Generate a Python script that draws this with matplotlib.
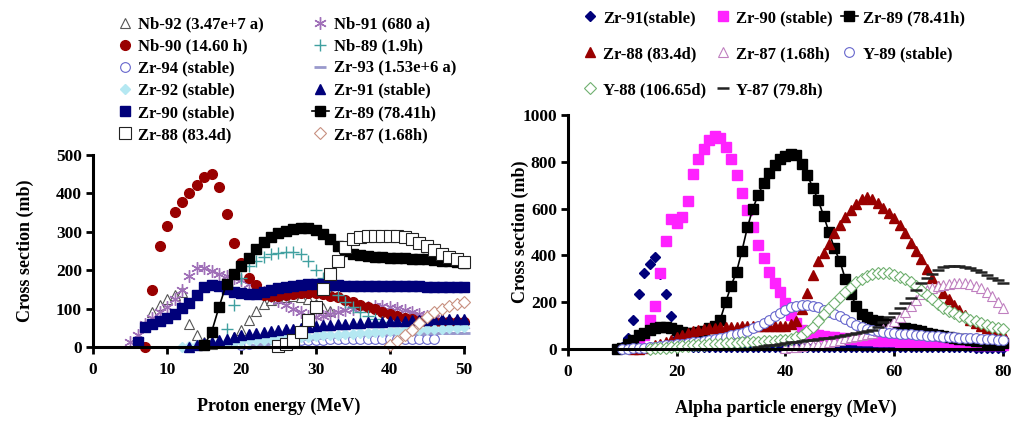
import numpy as np
import matplotlib.pyplot as plt

plt.rcParams['font.family'] = ['Liberation Serif', 'DejaVu Serif']
plt.rcParams['font.weight'] = 'bold'

# ---------------- proton induced (left) ----------------
e_nb92 = np.arange(7, 33)
nb92 = [55, 90, 110, 125, 135, 142, 60, 30, 12, 8,
        10, 15, 25, 45, 70, 95, 112, 122, 128, 130,
        132, 131, 125, 112, 102, 95]
e_nb91 = np.arange(5, 51)
nb91 = [13, 32, 60, 75, 90, 105, 125, 148, 185, 205,
        207, 198, 190, 185, 180, 174, 165, 155, 143, 132,
        120, 110, 100, 90, 82, 78, 80, 85, 92, 97,
        100, 103, 105, 106, 106, 105, 102, 97, 92, 87,
        80, 75, 70, 65, 60, 56]
e_nb90 = np.arange(7, 51)
nb90 = [0, 148, 262, 316, 352, 378, 400, 421, 444, 450,
        416, 346, 272, 220, 181, 162, 135, 132, 133, 136,
        139, 141, 141, 140, 138, 134, 129, 123, 116, 110,
        104, 98, 92, 86, 81, 76, 72, 69, 66, 65,
        64, 64, 64, 64]
e_nb89 = np.arange(18, 46)
nb89 = [48, 110, 180, 210, 225, 235, 242, 246, 248, 248,
        242, 225, 200, 180, 160, 135, 118, 104, 92, 82,
        72, 64, 56, 48, 42, 36, 31, 26]
e_zr94 = np.arange(20, 47)
zr94 = [5, 8, 10, 12, 14, 15, 16, 17, 18, 18,
        19, 19, 20, 20, 20, 21, 21, 21, 21, 21,
        21, 21, 21, 21, 21, 20, 20]
e_zr93 = np.arange(22, 51)
zr93 = [5, 8, 11, 14, 16, 18, 20, 22, 24, 26,
        27, 28, 29, 30, 31, 32, 33, 33, 34, 34,
        35, 35, 35, 36, 36, 36, 36, 36, 36]
e_zr92 = np.arange(12, 51)
zr92 = [0, 3, 6, 8, 10, 11, 13, 14, 15, 17,
        18, 19, 21, 22, 23, 25, 26, 27, 29, 30,
        31, 32, 34, 35, 36, 37, 38, 40, 41, 42,
        43, 44, 45, 46, 47, 48, 49, 50, 51]
e_zr91 = np.arange(13, 51)
zr91 = [0, 5, 10, 14, 18, 22, 26, 30, 33, 36,
        39, 42, 44, 46, 48, 50, 52, 54, 56, 58,
        60, 61, 62, 63, 64, 65, 66, 67, 68, 69,
        70, 70, 71, 72, 72, 73, 73, 74]
e_zr90 = np.arange(6, 51)
zr90 = [14, 53, 59, 68, 76, 86, 101, 115, 135, 155,
        161, 158, 150, 144, 141, 139, 138, 142, 148, 153,
        157, 160, 162, 163, 163, 163, 162, 161, 160, 160,
        160, 159, 159, 158, 158, 158, 158, 158, 158, 157,
        157, 157, 157, 157, 157]
e_zr89 = np.arange(15, 51)
zr89 = [5, 40, 105, 165, 190, 210, 232, 255, 273, 287,
        297, 303, 307, 310, 310, 305, 295, 280, 262, 250,
        243, 239, 236, 235, 234, 233, 232, 231, 230, 229,
        228, 227, 225, 223, 221, 220]
e_zr88 = np.arange(25, 51)
zr88 = [2, 8, 18, 40, 70, 105, 150, 190, 224, 260,
        280, 286, 288, 289, 290, 290, 289, 287, 282, 272,
        262, 252, 243, 235, 228, 222]
e_zr87 = np.arange(40, 51)
zr87 = [5, 15, 30, 45, 62, 78, 90, 100, 107, 113, 118]

# ---------------- alpha induced (right) ----------------
ea_zr91 = np.arange(10, 81)
a_zr91 = [10, 48, 125, 235, 325, 362, 395, 320, 233, 140,
          45, 20, 12, 10, 9, 8, 8, 8, 8, 8,
          8, 8, 8, 8, 8, 8, 8, 8, 8, 8,
          8, 8, 8, 8, 8, 8, 8, 8, 8, 8,
          8, 8, 8, 8, 8, 8, 8, 7, 7, 7,
          7, 7, 7, 7, 7, 7, 7, 7, 7, 7,
          7, 7, 7, 7, 7, 6, 6, 6, 6, 6, 6]
ea_zr90 = np.arange(13, 81)
a_zr90 = [20, 60, 123, 182, 325, 463, 555, 540, 563, 632,
          748, 811, 853, 893, 912, 903, 865, 811, 744, 668,
          594, 520, 444, 388, 330, 282, 242, 197, 147, 111,
          83, 70, 62, 58, 55, 52, 50, 48, 46, 44,
          42, 40, 39, 37, 36, 35, 34, 33, 32, 31,
          30, 29, 28, 27, 26, 25, 24, 23, 22, 21,
          20, 20, 19, 18, 18, 17, 17, 16]
ea_zr89 = np.arange(9, 81)
a_zr89 = [0, 5, 20, 40, 60, 70, 80, 88, 92, 93,
          88, 80, 72, 68, 68, 72, 78, 88, 100, 125,
          200, 270, 330, 420, 520, 600, 660, 710, 750, 785,
          810, 825, 835, 830, 790, 745, 690, 637, 570, 500,
          430, 375, 300, 235, 185, 150, 135, 125, 118, 112,
          106, 100, 95, 90, 85, 80, 75, 70, 65, 60,
          56, 52, 48, 44, 41, 38, 35, 33, 31, 29,
          27, 25]
ea_zr88 = np.arange(12, 81)
a_zr88 = [0, 2, 5, 10, 15, 20, 30, 40, 50, 60,
          68, 75, 80, 85, 88, 90, 92, 94, 95, 96,
          97, 98, 98, 99, 99, 100, 100, 100, 100, 105,
          120, 170, 240, 315, 375, 410, 450, 495, 530, 562,
          592, 620, 640, 648, 640, 622, 603, 580, 558, 530,
          495, 455, 420, 385, 340, 305, 270, 240, 215, 190,
          165, 145, 125, 110, 98, 88, 80, 72, 66]
ea_zr87 = np.arange(40, 81)
a_zr87 = [5, 7, 10, 12, 15, 18, 22, 26, 30, 35,
          40, 45, 50, 55, 60, 65, 70, 78, 85, 100,
          118, 138, 160, 185, 208, 235, 250, 260, 268, 273,
          277, 280, 281, 280, 276, 270, 260, 245, 225, 200,
          175]
ea_y89 = np.arange(10, 81)
a_y89 = [0, 2, 3, 5, 6, 8, 10, 12, 15, 17,
         20, 23, 26, 29, 32, 36, 40, 44, 48, 53,
         58, 63, 68, 75, 88, 100, 112, 125, 140, 155,
         168, 178, 185, 188, 188, 185, 178, 168, 158, 150,
         140, 128, 115, 102, 92, 85, 80, 76, 73, 70,
         68, 66, 64, 62, 60, 58, 56, 55, 54, 52,
         51, 50, 48, 47, 46, 45, 44, 42, 41, 40, 38]
ea_y88 = np.arange(15, 81)
a_y88 = [2, 3, 5, 6, 8, 10, 12, 13, 15, 17,
         18, 20, 21, 22, 24, 25, 27, 28, 29, 31,
         32, 34, 35, 36, 38, 40, 44, 50, 60, 75,
         95, 120, 148, 175, 198, 222, 245, 266, 285, 300,
         312, 320, 325, 326, 323, 316, 308, 298, 285, 268,
         250, 232, 212, 192, 175, 162, 152, 143, 135, 126,
         118, 110, 102, 96, 90, 86]
ea_y87 = np.arange(35, 81)
a_y87 = [10, 13, 16, 19, 22, 25, 28, 31, 34, 37,
         40, 43, 46, 49, 52, 55, 59, 63, 67, 71,
         75, 82, 95, 115, 138, 155, 175, 195, 220, 250,
         280, 302, 322, 338, 350, 355, 356, 355, 352, 345,
         338, 328, 316, 305, 293, 281]

fig = plt.figure(figsize=(10.13, 4.24), dpi=100)
ax1 = fig.add_axes([0.0918, 0.1816, 0.3662, 0.4528])
ax2 = fig.add_axes([0.5607, 0.1769, 0.4294, 0.5519])

W = 'white'
h1 = []
h1.append(ax1.plot(e_nb92, nb92, '^', ms=7, mfc=W, mec='#555555', mew=0.8, ls='none', label='Nb-92 (3.47e+7 a)')[0])
h1.append(ax1.plot(e_nb91, nb91, marker=(6, 2, 0), ms=9, color='#A070B8', mew=1.0, ls='none', label='Nb-91 (680 a)')[0])
h1.append(ax1.plot(e_nb90, nb90, 'o', ms=7, color='#990000', ls='none', label='Nb-90 (14.60 h)')[0])
h1.append(ax1.plot(e_nb89, nb89, '+', ms=8, color='#40A0A0', mew=1.0, ls='none', label='Nb-89 (1.9h)')[0])
h1.append(ax1.plot(e_zr94, zr94, 'o', ms=7, mfc=W, mec='#6666CC', mew=0.8, ls='none', label='Zr-94 (stable)')[0])
h1.append(ax1.plot(e_zr93, zr93, '_', ms=8, color='#9999CC', mew=2, ls='none', label='Zr-93 (1.53e+6 a)')[0])
h1.append(ax1.plot(e_zr92, zr92, 'D', ms=5, color='#B5E8F2', ls='none', label='Zr-92 (stable)')[0])
h1.append(ax1.plot(e_zr91, zr91, '^', ms=7, color='#00007A', ls='none', label='Zr-91 (stable)')[0])
h1.append(ax1.plot(e_zr90, zr90, 's', ms=7, color='#00007A', ls='none', label='Zr-90 (stable)')[0])
h1.append(ax1.plot(e_zr89, zr89, 's-', ms=7, color='black', lw=1.2, label='Zr-89 (78.41h)')[0])
h1.append(ax1.plot(e_zr88, zr88, 's', ms=8, mfc=W, mec='#222222', mew=0.8, ls='none', label='Zr-88 (83.4d)')[0])
h1.append(ax1.plot(e_zr87, zr87, 'D', ms=6, mfc=W, mec='#C89080', mew=0.8, ls='none', label='Zr-87 (1.68h)')[0])

h2 = []
h2.append(ax2.plot(ea_zr91, a_zr91, 'D', ms=5, color='#00007A', ls='none', label='Zr-91(stable)')[0])
h2.append(ax2.plot(ea_zr90, a_zr90, 's', ms=7, color='#FF22FF', ls='none', label='Zr-90 (stable)')[0])
h2.append(ax2.plot(ea_zr89, a_zr89, 's-', ms=6.5, color='black', lw=1.2, label='Zr-89 (78.41h)')[0])
h2.append(ax2.plot(ea_zr88, a_zr88, '^', ms=6.5, color='#990000', ls='none', label='Zr-88 (83.4d)')[0])
h2.append(ax2.plot(ea_zr87, a_zr87, '^', ms=7, mfc=W, mec='#C080C0', mew=0.8, ls='none', label='Zr-87 (1.68h)')[0])
h2.append(ax2.plot(ea_y89, a_y89, 'o', ms=7, mfc=W, mec='#6666CC', mew=0.8, ls='none', label='Y-89 (stable)')[0])
h2.append(ax2.plot(ea_y88, a_y88, 'D', ms=6, mfc=W, mec='#70B070', mew=0.8, ls='none', label='Y-88 (106.65d)')[0])
h2.append(ax2.plot(ea_y87, a_y87, '_', ms=9, color='#222222', mew=1.8, ls='none', label='Y-87 (79.8h)')[0])

for ax, xmax, xstep, ymax, ystep, xl, ylx in [
        (ax1, 50, 10, 500, 100, 'Proton energy (MeV)', -0.183),
        (ax2, 80, 20, 1000, 200, 'Alpha particle energy (MeV)', -0.11)]:
    ax.set_xlim(0, xmax)
    ax.set_ylim(0, ymax)
    ax.set_xticks(np.arange(0, xmax + 1, xstep))
    ax.set_yticks(np.arange(0, ymax + 1, ystep))
    for s in ['top', 'right']:
        ax.spines[s].set_visible(False)
    for s in ['left', 'bottom']:
        ax.spines[s].set_linewidth(2.2)
    ax.tick_params(width=2, length=5, labelsize=12.5)
    ax.tick_params(axis='y', pad=3)
    ax.tick_params(axis='x', pad=6)
    for lab in ax.get_xticklabels() + ax.get_yticklabels():
        lab.set_fontweight('bold')
    ax.set_xlabel(xl, fontsize=13, fontweight='bold', labelpad=14)
    ax.set_ylabel('Cross section (mb)', fontsize=13, fontweight='bold', va='center')
    ax.yaxis.set_label_coords(ylx, 0.5)
    for ln in ax.lines:
        ln.set_clip_on(False)

# legends are laid out row by row in the reference
order1 = [0, 2, 4, 6, 8, 10, 1, 3, 5, 7, 9, 11]
fig.legend([h1[i] for i in order1], [h1[i].get_label() for i in order1],
           ncol=2, loc='upper left', bbox_to_anchor=(0.105, 0.985), frameon=False,
           fontsize=12, handlelength=1.0, handletextpad=0.3, columnspacing=2.9,
           labelspacing=0.37, borderaxespad=0.2)
order2 = [0, 3, 6, 1, 4, 7, 2, 5]
fig.legend([h2[i] for i in order2], [h2[i].get_label() for i in order2],
           ncol=3, loc='upper left', bbox_to_anchor=(0.564, 1.0), frameon=False,
           fontsize=12, handlelength=1.0, handletextpad=0.3, columnspacing=0.5,
           labelspacing=1.2, borderaxespad=0.2)

fig.savefig('out.png', dpi=100)
